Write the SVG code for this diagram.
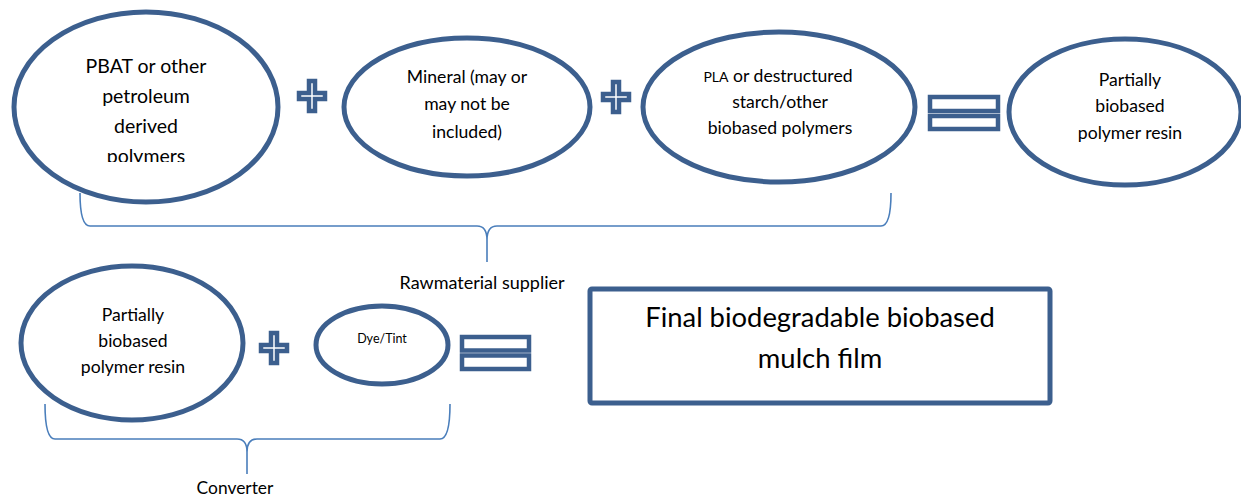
<svg xmlns="http://www.w3.org/2000/svg" width="1241" height="496" viewBox="0 0 1241 496">
<style>
.node{fill:#fff;stroke:#3c5f8e;stroke-width:5}
.op{fill:#fff;stroke:#3c5f8e;stroke-width:4.5}
.brace{fill:none;stroke:#4a7ebb;stroke-width:1.6}
text{font-family:Lato,"Liberation Sans",sans-serif;fill:#000;text-anchor:middle}
.t16{font-size:17.6px}
.t19{font-size:19.5px}
</style>
<defs>
<path id="plus" d="M-3,-15 H3 V-3 H13 V3 H3 V15 H-3 V3 H-13 V-3 H-3 Z"/>
<clipPath id="c1"><rect x="0" y="0" width="300" height="162"/></clipPath>
</defs>
<rect width="1241" height="496" fill="#fff"/>
<g id="connectors">
<path class="brace" d="M80,193 Q80,226 90,226 L477,226 Q487,226 487,240 L487,262 M487,240 Q487,226 497,226 L881,226 Q891,226 891,193"/>
<path class="brace" d="M45,404 Q45,439 55,439 L237,439 Q247,439 247,452 L247,474 M247,452 Q247,439 257,439 L440,439 Q450,439 450,404"/>
<text x="482" y="289" font-size="18">Rawmaterial supplier</text>
<text x="235" y="494" font-size="17.4">Converter</text>
</g>
<g id="n1">
<ellipse class="node" cx="146" cy="107" rx="132" ry="95"/>
<g clip-path="url(#c1)">
<text class="t19" x="146" y="73">PBAT or other</text>
<text class="t19" x="146" y="103">petroleum</text>
<text class="t19" x="146" y="133">derived</text>
<text class="t19" x="146" y="163">polymers</text>
</g>
</g>
<g id="op1"><use href="#plus" class="op" x="312" y="96"/></g>
<g id="n2">
<ellipse class="node" cx="467" cy="107" rx="123" ry="69"/>
<text class="t16" x="467" y="83">Mineral (may or</text>
<text class="t16" x="467" y="110">may not be</text>
<text class="t16" x="467" y="138">included)</text>
</g>
<g id="op2"><use href="#plus" class="op" x="616" y="97"/></g>
<g id="n3">
<ellipse class="node" cx="779" cy="107" rx="136" ry="75"/>
<text class="t16" x="778" y="82"><tspan font-size="14">PLA</tspan> or destructured</text>
<text class="t16" x="780" y="108">starch/other</text>
<text class="t16" x="780" y="134">biobased polymers</text>
</g>
<g id="op3">
<rect class="op" x="930" y="97" width="68" height="14"/>
<rect class="op" x="930" y="116" width="68" height="13"/>
</g>
<g id="n4">
<ellipse class="node" cx="1125" cy="112" rx="116" ry="73"/>
<text class="t16" x="1130" y="86">Partially</text>
<text class="t16" x="1130" y="112">biobased</text>
<text class="t16" x="1130" y="139">polymer resin</text>
</g>
<g id="n5">
<ellipse class="node" cx="132" cy="343" rx="111" ry="77"/>
<text class="t16" x="133" y="321">Partially</text>
<text class="t16" x="133" y="347">biobased</text>
<text class="t16" x="133" y="373">polymer resin</text>
</g>
<g id="op4"><use href="#plus" class="op" x="274" y="348"/></g>
<g id="n6">
<ellipse class="node" cx="382" cy="345" rx="66" ry="39"/>
<text x="382" y="343" font-size="12.5">Dye/Tint</text>
</g>
<g id="op5">
<rect class="op" x="462" y="337" width="67" height="13.5"/>
<rect class="op" x="462" y="355.5" width="67" height="13.5"/>
</g>
<g id="n7">
<rect class="node" x="590" y="289" width="460" height="114" rx="2"/>
<text x="820" y="327" font-size="27.4">Final biodegradable biobased</text>
<text x="820" y="368" font-size="27.4">mulch film</text>
</g>
</svg>
